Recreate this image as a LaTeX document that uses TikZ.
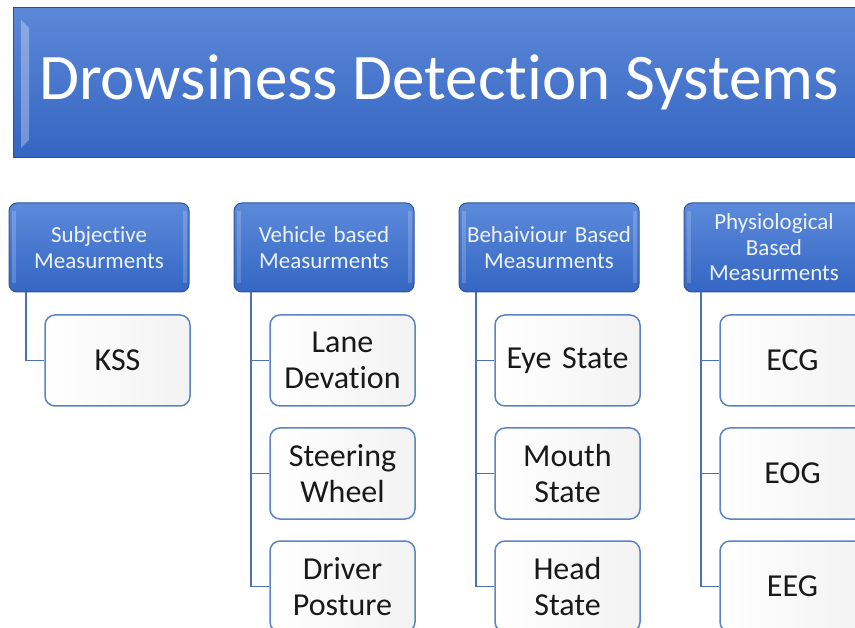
\documentclass[tikz,border=0pt]{standalone}
\usepackage{fontspec}
\setmainfont{Carlito}[Ligatures=NoCommon]
\usetikzlibrary{calc}

\definecolor{titletop}{HTML}{5C88D8}
\definecolor{titlebot}{HTML}{3465C2}
\definecolor{titleborder}{HTML}{2C4F8E}
\definecolor{headtop}{HTML}{5C8ADB}
\definecolor{headbot}{HTML}{3466C3}
\definecolor{headborder}{HTML}{2F5597}
\definecolor{headtext}{HTML}{EEF3FB}
\definecolor{linkblue}{HTML}{4A70B6}
\definecolor{childborder}{HTML}{5B83C6}

\tikzset{
  titlebox/.style={draw=titleborder, line width=1pt, top color=titletop, bottom color=titlebot,
    minimum width=856pt, minimum height=150pt, inner sep=0pt},
  headbox/.style={rounded corners=8pt, draw=headborder, line width=1pt,
    top color=headtop, bottom color=headbot,
    minimum width=180pt, minimum height=89pt, text width=176pt, align=center,
    font=\fontsize{23}{25.5}\selectfont, text=headtext, inner sep=0pt},
  childbox/.style={rounded corners=10pt, draw=childborder, line width=1.5pt,
    left color=white, right color=black!5,
    minimum width=145pt, minimum height=91pt, text width=140pt, align=center,
    font=\fontsize{32}{36}\selectfont, text=black!90, inner sep=0pt},
  link/.style={draw=linkblue, line width=1.5pt},
  bevel/.style={fill=white, opacity=0.18}
}

% light inner edges on the blue boxes
\newcommand\edgelight[1]{%
  \fill[bevel] ($(#1.north west)+(3,9)$) rectangle ($(#1.south west)+(7,-9)$);
  \fill[bevel] ($(#1.north east)+(-7,9)$) rectangle ($(#1.south east)+(-3,-9)$);
}

\begin{document}
\begin{tikzpicture}[x=1pt, y=-1pt]
  \useasboundingbox (0,0) rectangle (855,628);
  \clip (0,0) rectangle (855,628);

  % title bar
  \node[titlebox] (title) at (441,83) {};
  \fill[white, opacity=0.3] (21,20) -- (29,28) -- (29,140) -- (21,148) -- cycle;
  \node[font=\fontsize{65}{70}\selectfont, text=white, inner sep=0pt] (titletext) at (439,82)
    {Drowsiness Detection Systems};

  % category headers
  \node[headbox] (h1) at (99,247.5) {Subjective\\Measurments};
  \node[headbox] (h2) at (324,247.5) {Vehicle based\\Measurments};
  \node[headbox] (h3) at (549,247.5) {Behaiviour Based\\Measurments};
  \node[headbox] (h4) at (774,247.5) {Physiological\\Based\\Measurments};
  \edgelight{h1}
  \edgelight{h2}
  \edgelight{h3}
  \edgelight{h4}

  % measurement items
  \node[childbox] (k1) at (117.5,360.5) {KSS};

  \node[childbox] (v1) at (342.5,360.5) {Lane\\Devation};
  \node[childbox] (v2) at (342.5,473.5) {Steering\\Wheel};
  \node[childbox] (v3) at (342.5,586.5) {Driver\\Posture};

  \node[childbox] (b1) at (567.5,360.5) {Eye State};
  \node[childbox] (b2) at (567.5,473.5) {Mouth\\State};
  \node[childbox] (b3) at (567.5,586.5) {Head\\State};

  \node[childbox] (p1) at (792.5,360.5) {ECG};
  \node[childbox] (p2) at (792.5,473.5) {EOG};
  \node[childbox] (p3) at (792.5,586.5) {EEG};

  % connectors from each header to its items
  \coordinate (t1) at ($(h1.south west)+(17.5,0)$);
  \coordinate (t2) at ($(h2.south west)+(17.5,0)$);
  \coordinate (t3) at ($(h3.south west)+(17.5,0)$);
  \coordinate (t4) at ($(h4.south west)+(17.5,0)$);

  \draw[link] (t1) |- (k1.west);

  \draw[link] (t2) |- (v3.west);
  \draw[link] (t2 |- v1.west) -- (v1.west);
  \draw[link] (t2 |- v2.west) -- (v2.west);

  \draw[link] (t3) |- (b3.west);
  \draw[link] (t3 |- b1.west) -- (b1.west);
  \draw[link] (t3 |- b2.west) -- (b2.west);

  \draw[link] (t4) |- (p3.west);
  \draw[link] (t4 |- p1.west) -- (p1.west);
  \draw[link] (t4 |- p2.west) -- (p2.west);
\end{tikzpicture}
\end{document}
